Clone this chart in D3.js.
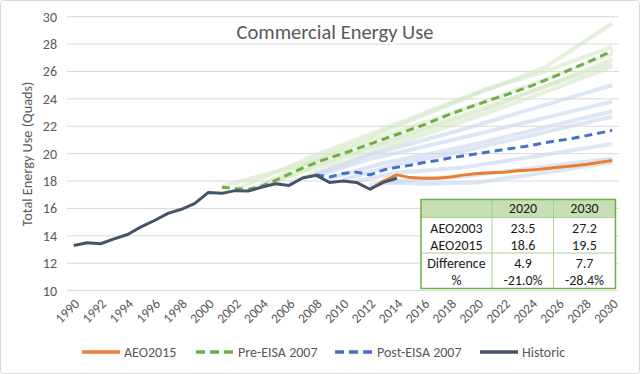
<!DOCTYPE html>
<html>
<head>
<meta charset="utf-8">
<script src="https://cdn.jsdelivr.net/npm/d3@7/dist/d3.min.js"></script>
<style>
  html, body { margin: 0; padding: 0; background: #fff; }
  svg { display: block; }
  text { font-family: Calibri, Carlito, Lato, "Open Sans", sans-serif; }
</style>
</head>
<body>
<svg id="chart" width="640" height="374"></svg>
<script>
// ---------------- DATA ----------------
const years = [1990,1991,1992,1993,1994,1995,1996,1997,1998,1999,2000,2001,2002,2003,2004,2005,2006,2007,2008,2009,2010,2011,2012,2013,2014,2015,2016,2017,2018,2019,2020,2021,2022,2023,2024,2025,2026,2027,2028,2029,2030];
const xTickLabels = ["1990","1992","1994","1996","1998","2000","2002","2004","2006","2008","2010","2012","2014","2016","2018","2020","2022","2024","2026","2028","2030"];
const yTickLabels = [10,12,14,16,18,20,22,24,26,28,30];

const historicStart = 1990;
const historic = [13.3,13.5,13.42,13.78,14.1,14.65,15.12,15.64,15.94,16.37,17.17,17.1,17.3,17.28,17.56,17.8,17.68,18.22,18.42,17.9,18.0,17.9,17.4,17.9,18.2];

const aeo2015Start = 2012;
const aeo2015 = [17.4,18.0,18.45,18.25,18.2,18.2,18.3,18.45,18.55,18.6,18.65,18.75,18.8,18.9,19.0,19.1,19.2,19.35,19.5];

const preEisaStart = 2001;
const preEisa = [17.55,17.45,17.4,17.65,18.05,18.5,18.95,19.35,19.7,20.0,20.35,20.7,21.05,21.4,21.75,22.1,22.5,22.9,23.25,23.6,23.95,24.25,24.6,24.95,25.35,25.75,26.2,26.6,27.05,27.5];

const postEisaStart = 2008;
const postEisa = [18.45,18.3,18.55,18.65,18.45,18.8,19.0,19.15,19.35,19.5,19.7,19.85,20.0,20.15,20.3,20.45,20.6,20.8,20.95,21.1,21.3,21.5,21.7];

// Individual pre-EISA forecasts (light green), [year, value] vertices
const preEisaRuns = [
  [[2003,17.3],[2008,19.6],[2013,21.6],[2020,24.4],[2025,26.3],[2030,29.5]],
  [[2002,17.4],[2008,19.9],[2014,22.2],[2020,24.5],[2025,26.0],[2030,27.8]],
  [[2001,17.6],[2008,19.5],[2014,21.6],[2020,23.6],[2025,25.4],[2030,27.3]],
  [[2004,17.7],[2008,19.0],[2014,21.0],[2020,23.0],[2025,24.9],[2030,26.9]],
  [[2005,17.9],[2008,19.2],[2014,21.2],[2020,23.2],[2025,24.9],[2030,26.6]],
  [[2006,17.9],[2009,19.0],[2014,20.7],[2020,22.7],[2025,24.5],[2030,26.35]]
];
// Individual post-EISA forecasts (light blue)
const postEisaRuns = [
  [[2008,18.5],[2012,19.9],[2019,21.8],[2030,25.0]],
  [[2008,18.4],[2012,19.6],[2019,21.2],[2030,23.8]],
  [[2009,18.2],[2013,19.3],[2019,20.5],[2030,23.1]],
  [[2010,18.1],[2014,19.2],[2019,20.2],[2030,22.7]],
  [[2011,18.0],[2014,18.6],[2019,19.0],[2030,20.7]],
  [[2012,17.7],[2015,18.1],[2019,18.35],[2030,19.65]],
  [[2013,17.9],[2016,17.8],[2020,17.9],[2030,19.35]]
];

const tableHeader = ["", "2020", "2030"];
const tableRows = [
  ["AEO2003", "23.5", "27.2"],
  ["AEO2015", "18.6", "19.5"],
  ["Difference", "4.9", "7.7"],
  ["%", "-21.0%", "-28.4%"]
];

const legendItems = [
  {name: "AEO2015", color: "#ed7d31", dash: null},
  {name: "Pre-EISA 2007", color: "#70ad47", dash: "8,5"},
  {name: "Post-EISA 2007", color: "#4472c4", dash: "8,5"},
  {name: "Historic", color: "#44546a", dash: null}
];

// ---------------- CHART ----------------
(function () {
const svg = d3.select("#chart");
const W = 640, H = 374;
const pLeft = 67, pRight = 619, pTop = 16.7, pBottom = 290.6;

svg.append("rect").attr("x", 0.5).attr("y", 0.5).attr("width", W - 1).attr("height", H - 1)
  .attr("rx", 3).attr("fill", "#fff").attr("stroke", "#d9d9d9");

const x = d3.scaleLinear().domain([years[0] - 0.5, years[years.length - 1] + 0.5]).range([pLeft, pRight]);
const y = d3.scaleLinear().domain([10, 30]).range([pBottom, pTop]);

// gridlines
svg.append("g").selectAll("line").data(yTickLabels).join("line")
  .attr("x1", pLeft).attr("x2", pRight)
  .attr("y1", d => y(d)).attr("y2", d => y(d))
  .attr("stroke", "#d9d9d9").attr("stroke-width", 1);

// y axis labels
const yAxis = d3.axisLeft(y).tickValues(yTickLabels).tickSize(0).tickPadding(10);
const gy = svg.append("g").attr("transform", `translate(${pLeft},0)`).call(yAxis);
gy.select(".domain").remove();
gy.selectAll("text").attr("fill", "#595959").style("font-size", "14px")
  .style("font-family", "Calibri, Carlito, Lato, sans-serif");

// x axis labels
const xAxis = d3.axisBottom(x).tickValues(xTickLabels.map(Number)).tickFormat(d => String(d)).tickSize(0);
const gx = svg.append("g").attr("transform", `translate(0,${pBottom})`).call(xAxis);
gx.select(".domain").remove();
gx.selectAll("text")
  .attr("fill", "#595959").style("font-size", "13.5px")
  .style("font-family", "Calibri, Carlito, Lato, sans-serif")
  .attr("text-anchor", "end")
  .attr("dy", "0")
  .attr("transform", "translate(6,14) rotate(-45)")
  .attr("y", 0).attr("x", 0);

const line = d3.line().x(d => x(d[0])).y(d => y(d[1]));
const toPairs = (start, arr) => arr.map((v, i) => [start + i, v]);

// light runs
svg.append("g").selectAll("path").data(preEisaRuns).join("path")
  .attr("d", line).attr("fill", "none").attr("stroke", "#d3e7c5")
  .attr("stroke-width", 4).attr("stroke-opacity", 0.6).attr("stroke-linejoin", "round");
svg.append("g").selectAll("path").data(postEisaRuns).join("path")
  .attr("d", line).attr("fill", "none").attr("stroke", "#cbd8ef")
  .attr("stroke-width", 4).attr("stroke-opacity", 0.65).attr("stroke-linejoin", "round");

// main series
const mainSeries = [
  {data: toPairs(preEisaStart, preEisa), color: "#70ad47", dash: "8,5"},
  {data: toPairs(postEisaStart, postEisa), color: "#4472c4", dash: "8,5"},
  {data: toPairs(aeo2015Start, aeo2015), color: "#ed7d31", dash: null},
  {data: toPairs(historicStart, historic), color: "#44546a", dash: null}
];
svg.append("g").selectAll("path").data(mainSeries).join("path")
  .attr("d", d => line(d.data)).attr("fill", "none")
  .attr("stroke", d => d.color).attr("stroke-width", 3)
  .attr("stroke-dasharray", d => d.dash)
  .attr("stroke-linejoin", "round");

// title
svg.append("text").attr("x", 335).attr("y", 39).attr("text-anchor", "middle")
  .attr("fill", "#595959").style("font-size", "20.5px").text("Commercial Energy Use");

// y title
svg.append("text").attr("transform", "translate(32,154) rotate(-90)").attr("text-anchor", "middle")
  .attr("fill", "#595959").style("font-size", "14.3px").text("Total Energy Use (Quads)");

// table
const tX = [421, 492, 553.5, 615.5];
const tY = [199.5, 217.5, 236.5, 253, 271, 288.5];
const tg = svg.append("g");
tg.append("rect").attr("x", tX[0]).attr("y", tY[0]).attr("width", tX[3] - tX[0]).attr("height", tY[5] - tY[0]).attr("fill", "#fff");
tg.append("rect").attr("x", tX[0]).attr("y", tY[0]).attr("width", tX[3] - tX[0]).attr("height", tY[1] - tY[0]).attr("fill", "#c6e0b4");
[tX[1], tX[2]].forEach(xx => tg.append("line").attr("x1", xx).attr("x2", xx).attr("y1", tY[0]).attr("y2", tY[5]).attr("stroke", "#a9d08e").attr("stroke-width", 1));
[tY[1], tY[3]].forEach(yy => tg.append("line").attr("x1", tX[0]).attr("x2", tX[3]).attr("y1", yy).attr("y2", yy).attr("stroke", "#a9d08e").attr("stroke-width", 1));
tg.append("rect").attr("x", tX[0]).attr("y", tY[0]).attr("width", tX[3] - tX[0]).attr("height", tY[5] - tY[0])
  .attr("fill", "none").attr("stroke", "#70ad47").attr("stroke-width", 1.5);
const rowCenters = [208.5, 228.5, 245.5, 263, 280.5];
const colCenters = [456.5, 523, 584.5];
const allRows = [tableHeader].concat(tableRows);
allRows.forEach((row, ri) => {
  row.forEach((cell, ci) => {
    tg.append("text").attr("x", colCenters[ci]).attr("y", rowCenters[ri]).attr("dy", "0.35em")
      .attr("text-anchor", "middle").attr("fill", "#1a1a1a").style("font-size", "14px").text(cell);
  });
});

// legend
const legendX = [82, 196, 335, 480];
const lg = svg.append("g");
legendItems.forEach((it, i) => {
  const x0 = legendX[i];
  lg.append("line").attr("x1", x0).attr("x2", x0 + 38).attr("y1", 352).attr("y2", 352)
    .attr("stroke", it.color).attr("stroke-width", 3.5).attr("stroke-dasharray", it.dash ? "9,5" : null);
  lg.append("text").attr("x", x0 + 42).attr("y", 352).attr("dy", "0.35em")
    .attr("fill", "#595959").style("font-size", "14px").text(it.name);
});
})();
</script>
</body>
</html>
